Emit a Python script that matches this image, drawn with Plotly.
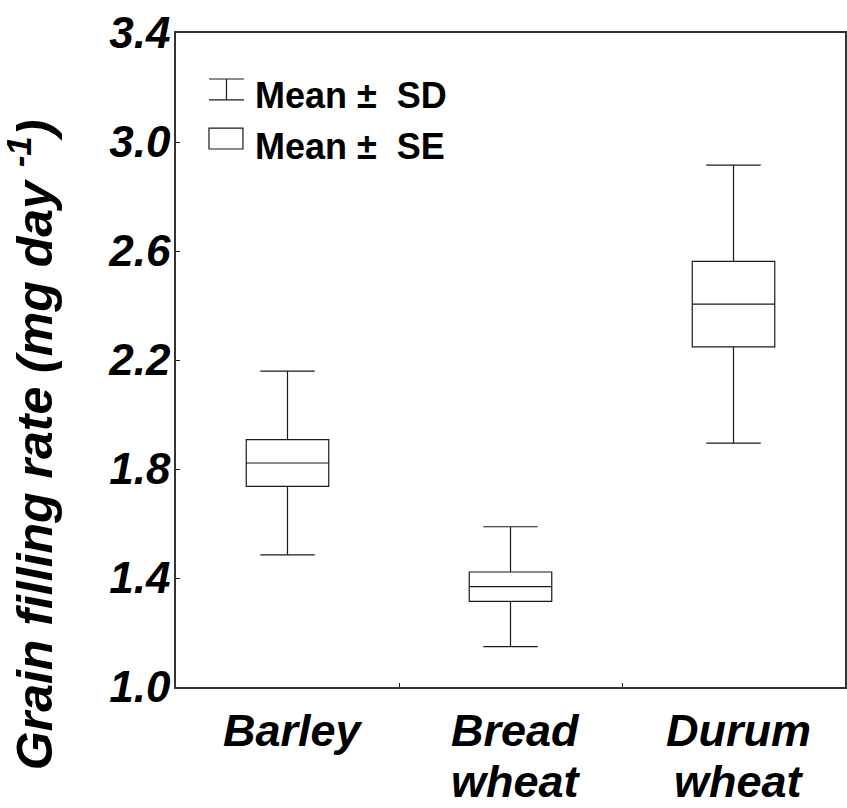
import plotly.graph_objects as go

# Grain filling rate per crop: mean, standard error and standard deviation
categories = ["Barley", "Bread wheat", "Durum wheat"]
mean = [1.822, 1.368, 2.405]
se = [0.086, 0.054, 0.157]
sd = [0.337, 0.220, 0.510]
y_ticks = [1.0, 1.4, 1.8, 2.2, 2.6, 3.0, 3.4]
legend_labels = ["Mean ±\u00a0 SD", "Mean ±\u00a0 SE"]

FONT = "Liberation Sans, Arial, sans-serif"
INK = "#1a1a1a"

q1 = [m - s for m, s in zip(mean, se)]
q3 = [m + s for m, s in zip(mean, se)]
lo = [m - s for m, s in zip(mean, sd)]
hi = [m + s for m, s in zip(mean, sd)]

fig = go.Figure()
fig.add_trace(go.Box(
    x=categories, q1=q1, median=mean, q3=q3,
    lowerfence=lo, upperfence=hi,
    width=0.37, whiskerwidth=0.66,
    fillcolor="white", line=dict(color=INK, width=1.2),
    boxpoints=False, showlegend=False, hoverinfo="skip",
))

# Legend: whisker glyph (SD) and box glyph (SE) with labels
x0, x1 = 0.0493, 0.1016
xm = (x0 + x1) / 2
sd_top, sd_bot = 0.9297, 0.8976
for ya in (sd_top, sd_bot):
    fig.add_shape(type="line", xref="paper", yref="paper", x0=x0, x1=x1,
                  y0=ya, y1=ya, line=dict(color=INK, width=1.2))
fig.add_shape(type="line", xref="paper", yref="paper", x0=xm, x1=xm,
              y0=sd_bot, y1=sd_top, line=dict(color=INK, width=1.2))
fig.add_shape(type="rect", xref="paper", yref="paper", x0=x0, x1=0.1001,
              y0=0.8226, y1=0.8547, line=dict(color=INK, width=1.2),
              fillcolor="white")
for label, yc in zip(legend_labels, (0.905, 0.826)):
    fig.add_annotation(text=label, xref="paper", yref="paper", x=0.1151, y=yc,
                       xanchor="left", yanchor="middle", showarrow=False,
                       font=dict(family=FONT, size=36, color="black", weight="bold"))

# Category labels under the axis, one word per line
label_font = dict(family=FONT, size=45, color="black", weight="bold", style="italic")
for cat in categories:
    for i, word in enumerate(cat.split(" ")):
        fig.add_annotation(text=word, xref="x", yref="paper", x=cat,
                           y=-0.0664 - 0.078 * i, xshift=5,
                           xanchor="center", yanchor="middle", showarrow=False,
                           font=label_font)

# Rotated y-axis title
fig.add_annotation(
    text="Grain filling rate (mg day <sup>-1</sup>)",
    xref="paper", yref="paper", x=-0.2165, y=0.37,
    xanchor="center", yanchor="middle", textangle=-90, showarrow=False,
    font=dict(family=FONT, size=50, color="black", weight="bold", style="italic"),
)

fig.update_xaxes(
    type="category", range=[-0.5, 2.5],
    showticklabels=False,
    tickson="boundaries", ticks="inside", ticklen=4, tickcolor=INK,
    showline=True, linecolor="#333", linewidth=1.5, mirror=True,
    showgrid=False, zeroline=False,
)
fig.update_yaxes(
    range=[1.0, 3.4], tickmode="array", tickvals=y_ticks,
    ticktext=[f"{v:.1f}" for v in y_ticks],
    ticks="inside", ticklen=4, tickcolor=INK,
    showline=True, linecolor="#333", linewidth=1.5, mirror=True,
    showgrid=False, zeroline=False, ticklabelstandoff=-5,
    tickfont=dict(family=FONT, size=44, color="black", weight="bold", style="italic"),
)
fig.update_layout(
    width=847, height=808,
    margin=dict(l=176, r=2, t=33, b=121, autoexpand=False),
    paper_bgcolor="white", plot_bgcolor="white",
)
fig.write_html("out.html")
